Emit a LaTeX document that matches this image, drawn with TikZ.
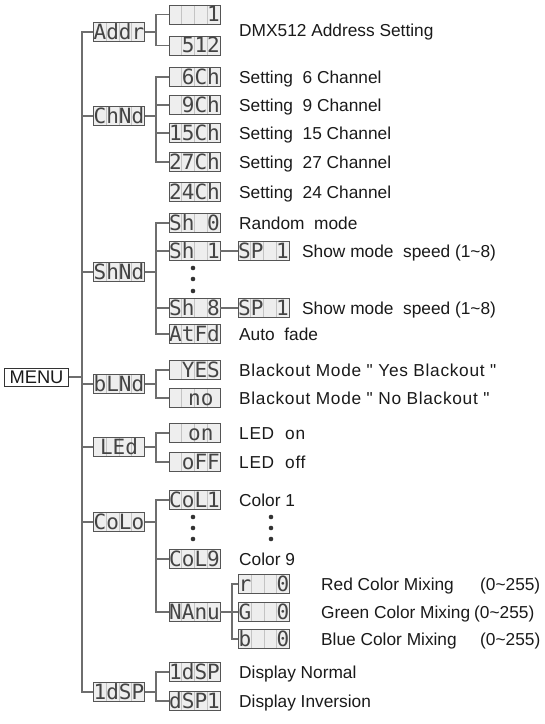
\documentclass[tikz,border=0pt]{standalone}
\usepackage{fontspec}
\setmainfont{Liberation Sans}
\newfontfamily\lblfont{Liberation Sans}
\newfontfamily\lblwide{Liberation Sans}[LetterSpace=4]
\newfontfamily\lcdfont{DejaVu Sans Mono}
\usetikzlibrary{calc}
\definecolor{conncol}{HTML}{6E6E6E}
\definecolor{boxcol}{HTML}{555555}
\definecolor{lcdfill}{HTML}{EEEEEE}
\definecolor{cellcol}{HTML}{C4C4C4}
\definecolor{segcol}{HTML}{444444}
\definecolor{txtcol}{HTML}{1A1A1A}
\definecolor{dotcol}{HTML}{333333}
\begin{document}
\begin{tikzpicture}[x=1bp,y=-1bp,
  lcdbox/.style={draw=boxcol, line width=0.9bp, fill=lcdfill, minimum width=51bp, minimum height=19bp,
    inner sep=0pt, text height=15bp, text depth=0pt, text=segcol,
    font={\lcdfont\fontsize{21bp}{22bp}\selectfont},
    path picture={\foreach \i in {1,2,3}{
      \draw[cellcol, line width=0.7bp]
        ($(path picture bounding box.north west)!\i/4!(path picture bounding box.north east)$) --
        ($(path picture bounding box.south west)!\i/4!(path picture bounding box.south east)$);}}},
  menubox/.style={draw=dotcol, line width=1bp, fill=white, minimum width=63bp, minimum height=18bp,
    inner sep=0pt, text height=13bp, text depth=0pt, text=txtcol,
    font={\lblfont\fontsize{18.3bp}{20bp}\selectfont}},
  lbl/.style={anchor=west, inner sep=0pt, text height=12.4bp, text depth=0pt, text=txtcol,
    font={\lblfont\fontsize{17.3bp}{20bp}\selectfont}},
  lblw/.style={lbl, font={\lblwide\fontsize{17.3bp}{20bp}\selectfont}},
  connline/.style={draw=conncol, line width=1.2bp},
  dotmark/.style={fill=dotcol}]
\fill[white] (0,0) rectangle (545,724);
\useasboundingbox (0,0) rectangle (545,724);
% bracket columns
\coordinate (T) at (82,0);
\coordinate (B1) at (156,0);
\coordinate (B2) at (232,0);
% root
\node[menubox] (menu) at (36.5,377) {MENU};
% level 1
\node[lcdbox] (addr) at (119,32) {Addr};
\node[lcdbox] (chnd) at (119,116) {ChNd};
\node[lcdbox] (shnd) at (119,272) {ShNd};
\node[lcdbox] (blnd) at (119,384) {bLNd};
\node[lcdbox] (led)  at (119,447) {LEd~};
\node[lcdbox] (colo) at (119,522) {CoLo};
\node[lcdbox] (idsp) at (119,692) {1dSP};
% level 2
\node[lcdbox] (a1)   at (194.5,14.5) {~~~1};
\node[lcdbox] (a512) at (194.5,45.5) {~512};
\node[lcdbox] (c6)   at (194.5,77)  {~6Ch};
\node[lcdbox] (c9)   at (194.5,105) {~9Ch};
\node[lcdbox] (c15)  at (194.5,133) {15Ch};
\node[lcdbox] (c27)  at (194.5,162) {27Ch};
\node[lcdbox] (c24)  at (194.5,192) {24Ch};
\node[lcdbox] (sh0)  at (194.5,223) {Sh~0};
\node[lcdbox] (sh1)  at (194.5,251) {Sh~1};
\node[lcdbox] (sh8)  at (194.5,308) {Sh~8};
\node[lcdbox] (atfd) at (194.5,334) {AtFd};
\node[lcdbox] (sp1)  at (263.5,251) {SP~1};
\node[lcdbox] (sp8)  at (263.5,308) {SP~1};
\node[lcdbox] (yes)  at (194.5,370) {~YES};
\node[lcdbox] (no)   at (194.5,398) {~no~};
\node[lcdbox] (on)   at (194.5,433) {~on~};
\node[lcdbox] (off)  at (194.5,462) {~oFF};
\node[lcdbox] (col1) at (194.5,500) {CoL1};
\node[lcdbox] (col9) at (194.5,559) {CoL9};
\node[lcdbox] (manu) at (194.5,612) {NAnu};
\node[lcdbox] (rr)   at (264,584) {r~~0};
\node[lcdbox] (gg)   at (264,612) {G~~0};
\node[lcdbox] (bb)   at (264,639) {b~~0};
\node[lcdbox] (dsp1) at (194.5,672) {1dSP};
\node[lcdbox] (dsp2) at (194.5,701) {dSP1};
% trunk
\draw[connline] (addr.west) -- (addr.west -| T) |- (idsp.west);
\foreach \n in {chnd,shnd,blnd,led,colo}{\draw[connline] (\n.west) -- (\n.west -| T);}
\draw[connline] (menu.east) -- (menu.east -| T);
% Addr
\draw[connline] (addr.east) -- (addr.east -| B1);
\draw[connline] (a1.west) -- (a1.west -| B1) |- (a512.west);
% ChNd
\draw[connline] (chnd.east) -- (chnd.east -| B1);
\draw[connline] (c6.west) -- (c6.west -| B1) |- (c27.west);
\draw[connline] (c9.west) -- (c9.west -| B1);
\draw[connline] (c15.west) -- (c15.west -| B1);
% ShNd
\draw[connline] (shnd.east) -- (shnd.east -| B1);
\draw[connline] (sh0.west) -- (sh0.west -| B1) |- (atfd.west);
\draw[connline] (sh1.west) -- (sh1.west -| B1);
\draw[connline] (sh8.west) -- (sh8.west -| B1);
\draw[connline] (sh1.east) -- (sp1.west);
\draw[connline] (sh8.east) -- (sp8.west);
% bLNd
\draw[connline] (blnd.east) -- (blnd.east -| B1);
\draw[connline] (yes.west) -- (yes.west -| B1) |- (no.west);
% LEd
\draw[connline] (led.east) -- (led.east -| B1);
\draw[connline] (on.west) -- (on.west -| B1) |- (off.west);
% CoLo
\draw[connline] (colo.east) -- (colo.east -| B1);
\draw[connline] (col1.west) -- (col1.west -| B1) |- (manu.west);
\draw[connline] (col9.west) -- (col9.west -| B1);
\draw[connline] (manu.east) -- (manu.east -| B2);
\draw[connline] (rr.west) -- (rr.west -| B2) |- (bb.west);
\draw[connline] (gg.west) -- (gg.west -| B2);
% IdSP
\draw[connline] (idsp.east) -- (idsp.east -| B1);
\draw[connline] (dsp1.west) -- (dsp1.west -| B1) |- (dsp2.west);
% dots
\foreach \y in {268,279,291}{\fill[dotmark] (193,\y) circle (2.3);}
\foreach \y in {517,528,539}{\fill[dotmark] (193,\y) circle (2.3); \fill[dotmark] (271,\y) circle (2.3);}
% labels
\node[lbl] (t1)  at (239,30)  {DMX512 Address Setting};
\node[lbl] (t2)  at (239,77)  {Setting\ \ 6 Channel};
\node[lbl] (t3)  at (239,105) {Setting\ \ 9 Channel};
\node[lbl] (t4)  at (239,133) {Setting\ \ 15 Channel};
\node[lbl] (t5)  at (239,162) {Setting\ \ 27 Channel};
\node[lbl] (t6)  at (239,192) {Setting\ \ 24 Channel};
\node[lbl] (t7)  at (239,223) {Random\ \ mode};
\node[lbl] (t8)  at (302,251) {Show mode\ \ speed (1\textasciitilde 8)};
\node[lbl] (t9)  at (302,308) {Show mode\ \ speed (1\textasciitilde 8)};
\node[lbl] (t10) at (239,334) {Auto\ \ fade};
\node[lblw] (t11) at (239,370) {Blackout Mode " Yes Blackout "};
\node[lblw] (t12) at (239,398) {Blackout Mode " No Blackout "};
\node[lblw] (t13) at (239,433) {LED\ \ on};
\node[lblw] (t14) at (239,462) {LED\ \ off};
\node[lbl] (t15) at (239,500) {Color 1};
\node[lbl] (t16) at (239,559) {Color 9};
\node[lbl] (t17) at (321,584) {\makebox[159bp][l]{Red Color Mixing}(0\textasciitilde 255)};
\node[lbl] (t18) at (321,612) {\makebox[153bp][l]{Green Color Mixing}(0\textasciitilde 255)};
\node[lbl] (t19) at (321,639) {\makebox[159bp][l]{Blue Color Mixing}(0\textasciitilde 255)};
\node[lbl] (t20) at (239,672) {Display Normal};
\node[lbl] (t21) at (239,701) {Display Inversion};
\end{tikzpicture}
\end{document}
